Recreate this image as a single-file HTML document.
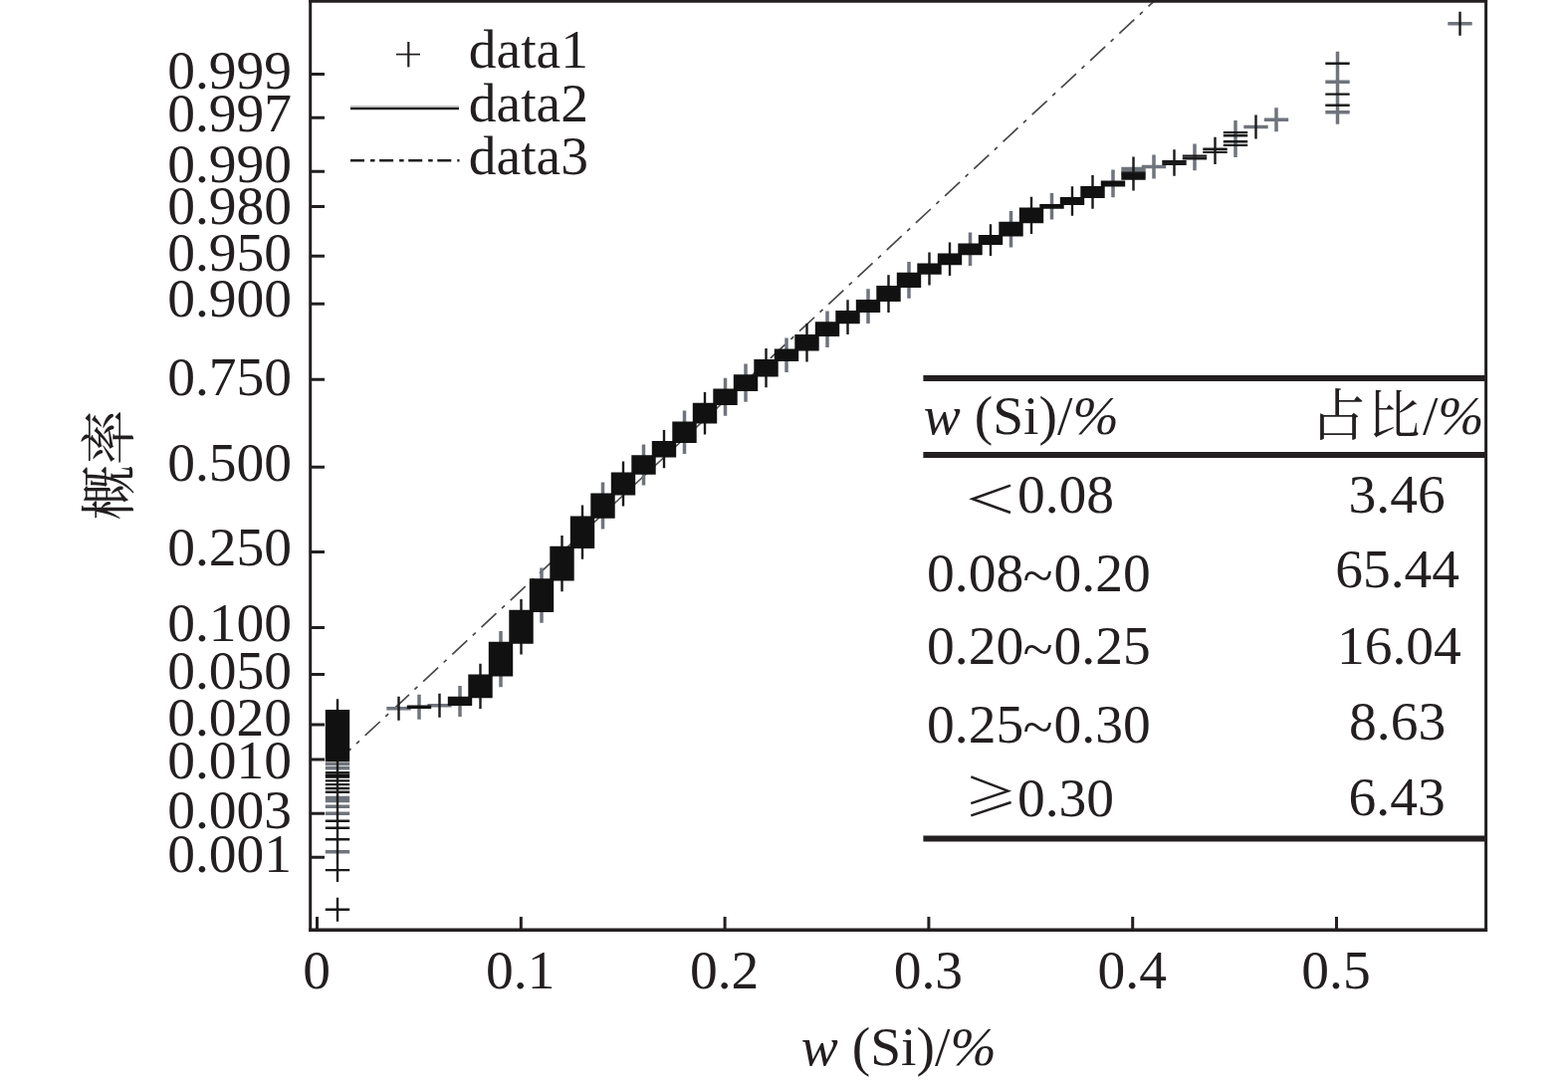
<!DOCTYPE html>
<html lang="zh"><head><meta charset="utf-8"><title>Normal probability plot w(Si)</title>
<style>
html,body{margin:0;padding:0;background:#fff;}
body{width:1575px;height:1087px;overflow:hidden;font-family:"Liberation Serif",serif;}
svg{display:block;}
</style></head><body>
<svg width="1575" height="1087" viewBox="0 0 1575 1087" role="img" aria-label="Normal probability plot of w(Si)">
<rect width="1575" height="1087" fill="#fff"/>
<path d="M750.9 381.3L1159.2 1.2" stroke="#484848" stroke-width="1.7" fill="none" stroke-dasharray="20.5 7.5 4 7.9" stroke-dashoffset="8.5"/>
<path d="M339 764.8L564.7 554.6" stroke="#484848" stroke-width="1.7" fill="none" stroke-dasharray="20.5 7.5 4 7.9" stroke-dashoffset="2"/>
<path d="M564.7 554.6L750.9 381.3" stroke="#555" stroke-width="1.6" fill="none"/>
<path d="M421 697.8V722.7M462 688.9V719.9M503 633.9V690.2M544 570.4V625.7M605.5 484.6V531.5M646.5 446.5V487.5M687.5 412.6V455.9M728.5 379.8V417.7M749 365.4V403.7M790 339.6V373.9M831 312.4V348.9M872 290.2V324.9M913 263V299.7M974.5 233.6V267M1015.5 212V248.4M1056.5 194.1V220.6M1118 170.6V198.3M1159 155.4V179.4M1200 144.6V171.2M1241 121.1V157.9M1282 108.2V132.2M1343.5 51.8V124.7" stroke="#70747c" stroke-width="3.5" fill="none"/>
<path d="M326.8 767.6h24.4M326.8 771.8h24.4M326.8 801.6h24.4M326.8 804.5h24.4M326.8 810.3h24.4M326.8 817.3h24.4M326.8 855.7h24.4M388.3 711.7h24.4M429.3 708.8h24.4M1126.3 169.5h24.4M1126.3 171.5h24.4M1146.8 167.4h24.4M1249.3 127.4h24.4M1269.8 120.2h24.4M1331.3 82.3h24.4M1331.3 112.7h24.4M1454.3 23.7h24.4" stroke="#70747c" stroke-width="3.5" fill="none"/>
<path d="M339 702.2V886.1M339 901.8V925.8M400.5 699.7V723.7M441.5 696.8V720.8M482.5 666.8V712.1M523.5 602V657.5M564.5 537.9V594.2M585 507.6V561.7M626 463.6V508.4M667 432.1V470.3M708 393.9V436.4M769.5 350.1V389.2M810.5 325.1V363.4M851.5 301.2V336.1M892.5 276.2V313.9M933.5 253.6V286.5M954 243.6V277.1M995 225.3V256.9M1036 197.8V235M1077 187.2V216.8M1097.5 176.1V209.8M1138.5 157.5V191.5M1179.5 150.3V176.8M1220.5 137.7V164.9M1261.5 115.4V139.4M1466.5 11.7V35.7" stroke="#1a1a1a" stroke-width="2.4" fill="none"/>
<path d="M326.8 776.2h24.4M326.8 784.4h24.4M326.8 788.1h24.4M326.8 792h24.4M326.8 795.8h24.4M326.8 824.8h24.4M326.8 831.8h24.4M326.8 843.2h24.4M326.8 874.1h24.4M326.8 913.8h24.4M1126.3 173.8h24.4M1167.3 162.3h24.4M1167.3 164.8h24.4M1187.8 156.6h24.4M1187.8 159.2h24.4M1208.3 149.7h24.4M1208.3 152.9h24.4M1228.8 133.1h24.4M1228.8 136.3h24.4M1228.8 142.3h24.4M1228.8 145.9h24.4M1331.3 63.8h24.4M1331.3 94.6h24.4M1331.3 105.7h24.4" stroke="#1a1a1a" stroke-width="2.4" fill="none"/>
<path fill="#111" d="M326.8 713H351.2V765.2H326.8zM326.8 777.6H351.2V781.8H326.8zM408.8 708.6H433.2V711.9H408.8zM449.8 699.7H474.2V709.1H449.8zM470.3 677.6H494.7V701.3H470.3zM490.8 644.7H515.2V679.4H490.8zM511.3 612.8H535.7V646.7H511.3zM531.8 581.2H556.2V614.9H531.8zM552.3 548.7H576.7V583.4H552.3zM572.8 518.4H597.2V550.9H572.8zM593.3 495.4H617.7V520.7H593.3zM613.8 474.4H638.2V497.6H613.8zM634.3 457.3H658.7V476.7H634.3zM654.8 442.9H679.2V459.5H654.8zM675.3 423.4H699.7V445.1H675.3zM695.8 404.7H720.2V425.6H695.8zM716.3 390.6H740.7V406.9H716.3zM736.8 376.2H761.2V392.9H736.8zM757.3 360.9H781.7V378.4H757.3zM777.8 350.4H802.2V363.1H777.8zM798.3 335.9H822.7V352.6H798.3zM818.8 323.2H843.2V338.1H818.8zM839.3 312H863.7V325.3H839.3zM859.8 301H884.2V314.1H859.8zM880.3 287H904.7V303.1H880.3zM900.8 273.8H925.2V288.9H900.8zM921.3 264.4H945.7V275.7H921.3zM941.8 254.4H966.2V266.3H941.8zM962.3 244.4H986.7V256.2H962.3zM982.8 236.1H1007.2V246.1H982.8zM1003.3 222.8H1027.7V237.6H1003.3zM1023.8 208.6H1048.2V224.2H1023.8zM1044.3 204.9H1068.7V209.8H1044.3zM1064.8 198H1089.2V206H1064.8zM1085.3 186.9H1109.7V199H1085.3zM1105.8 181.4H1130.2V187.5H1105.8zM1126.3 174.6H1150.7V180.7H1126.3z"/>
<g stroke="#231f20" fill="none">
<path d="M311.7 0V936.0M1492.6 0V936.0" stroke-width="3"/>
<path d="M310.2 1.2H1494.1" stroke-width="3.2"/>
<path d="M310.2 934.3H1494.1" stroke-width="3.4"/>
<path d="M312.7 74.5h13.3M312.7 118.3h13.3M312.7 172.3h13.3M312.7 207.4h13.3M312.7 257.3h13.3M312.7 305.3h13.3M312.7 381.3h13.3M312.7 469.3h13.3M312.7 554.6h13.3M312.7 630.6h13.3M312.7 677.4h13.3M312.7 727.9h13.3M312.7 763.0h13.3M312.7 817.2h13.3M312.7 861.3h13.3" stroke-width="3"/>
<path d="M318.5 934.3v-13.3M523.3 934.3v-13.3M728.1 934.3v-13.3M932.9 934.3v-13.3M1137.7 934.3v-13.3M1342.5 934.3v-13.3" stroke-width="3"/>
</g>
<g font-family="'Liberation Serif', serif" font-size="55.5" fill="#231f20">
<text x="168.2" y="89.1">0.999</text>
<text x="168.2" y="131.6">0.997</text>
<text x="168.2" y="182.7">0.990</text>
<text x="168.2" y="224.6">0.980</text>
<text x="168.2" y="271.8">0.950</text>
<text x="168.2" y="317.9">0.900</text>
<text x="168.2" y="396.6">0.750</text>
<text x="168.2" y="482.7">0.500</text>
<text x="168.2" y="568.2">0.250</text>
<text x="168.2" y="643.9">0.100</text>
<text x="168.2" y="691.6">0.050</text>
<text x="168.2" y="738.6">0.020</text>
<text x="168.2" y="781.9">0.010</text>
<text x="168.2" y="831.8">0.003</text>
<text x="168.2" y="875.6">0.001</text>
<text x="318" y="993" text-anchor="middle">0</text>
<text x="522.8" y="993" text-anchor="middle">0.1</text>
<text x="727.6" y="993" text-anchor="middle">0.2</text>
<text x="932.4" y="993" text-anchor="middle">0.3</text>
<text x="1137.2" y="993" text-anchor="middle">0.4</text>
<text x="1342" y="993" text-anchor="middle">0.5</text>
<text x="804.8" y="1070"><tspan font-style="italic">w</tspan> (Si)/<tspan font-style="italic">%</tspan></text>
<text x="470.8" y="68">data1</text>
<text x="470.8" y="122.2">data2</text>
<text x="470.8" y="175.3">data3</text>
<text x="927.8" y="436"><tspan font-style="italic">w</tspan> (Si)/<tspan font-style="italic">%</tspan></text>
<text x="1021.9" y="515.3">0.08</text>
<text x="931" y="593.9">0.08<tspan x="1027.4" dy="3.4">~</tspan><tspan x="1058.6" dy="-3.4">0.20</tspan></text>
<text x="931" y="667.2">0.20<tspan x="1027.4" dy="3.4">~</tspan><tspan x="1058.6" dy="-3.4">0.25</tspan></text>
<text x="931" y="745.9">0.25<tspan x="1027.4" dy="3.4">~</tspan><tspan x="1058.6" dy="-3.4">0.30</tspan></text>
<text x="1021.9" y="820.3">0.30</text>
<text x="1354.6" y="515.3">3.46</text>
<text x="1341.2" y="590.4">65.44</text>
<text x="1342.9" y="667.3">16.04</text>
<text x="1355" y="743.3">8.63</text>
<text x="1354.5" y="819.3">6.43</text>
<text x="1429" y="436">/</text>
<text x="1444.2" y="436" font-style="italic">%</text>
</g>
<g fill="#231f20" font-family="'Liberation Serif', 'Noto Serif CJK SC', serif" font-size="55.5">
<text x="1316.4" y="436.8">占</text>
<text x="1373.6" y="435.6" font-size="53">比</text>
<text transform="translate(128.5 522.4) rotate(-90)" x="0" y="0">概率</text>
</g>
<g stroke="#231f20" stroke-width="2.6" fill="none" stroke-linejoin="miter" stroke-miterlimit="10">
<path d="M1015 487.6L977 501.3L1015 515"/>
<path d="M975.3 780.4L1012.6 794.6L975.3 807.2M1015.6 806L975.3 819.3" stroke-width="2.4"/>
</g>
<g stroke="#231f20" fill="none">
<path d="M398 54.6h24" stroke-width="1.7"/><path d="M410.3 42v25.4" stroke-width="2.2"/>
<path d="M352 109H461" stroke-width="2.3"/>
<path d="M352 107.1H461" stroke-width="1.7" stroke="#b4b4b4"/>
<path d="M352 161.2H461.5" stroke-width="2.4" stroke-dasharray="14 6 4.5 4.6"/>
</g>
<g stroke="#231f20" stroke-width="6" fill="none">
<path d="M927.4 380H1492.6M927.4 457H1492.6M927.4 842.4H1492.6"/>
</g>
</svg>
</body></html>
